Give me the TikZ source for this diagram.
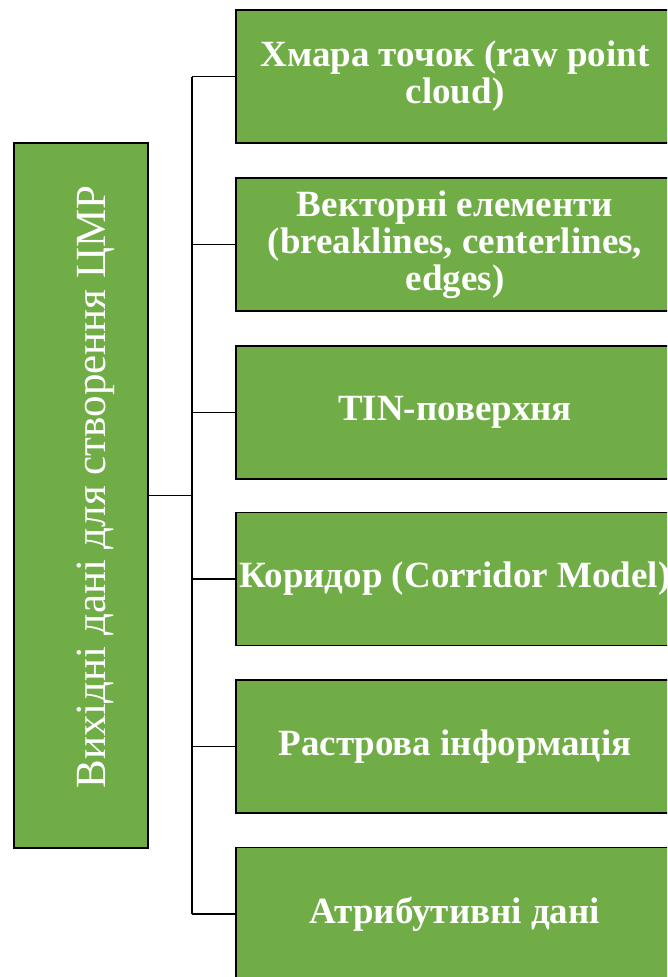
\documentclass[tikz,border=0pt]{standalone}
\usepackage{fontspec}
\setmainfont{Liberation Serif}
\definecolor{dmrgreen}{RGB}{112,173,71}

\begin{document}
\begin{tikzpicture}[x=1pt, y=-1pt,
  srcbox/.style={draw=black, line width=1.8pt, fill=dmrgreen, minimum width=134pt, minimum height=705pt, inner sep=0pt},
  srctext/.style={text=white, rotate=90, inner sep=0pt, font=\fontsize{43}{43}\selectfont},
  itembox/.style={draw=black, line width=1.8pt, fill=dmrgreen, minimum width=438pt, minimum height=133pt, inner sep=0pt,
    text=white, align=center, font=\fontsize{37}{37}\selectfont\bfseries},
  link/.style={line width=1.8pt}]
  \path[use as bounding box, clip] (0,0) rectangle (667,977);

  % Source block (left)
  \node[srcbox] (src) at (81,495.5) {};
  \node[srctext] (srclabel) at (96,487) {Вихідні дані для створення ЦМР};

  % Data blocks (right)
  \node[itembox] (b1) at (455,76.5) {Хмара точок (raw point\\cloud)};
  \node[itembox] (b2) at (455,244.5) {Векторні елементи\\(breaklines, centerlines,\\edges)};
  \node[itembox] (b3) at (455,412.5) {TIN-поверхня};
  \node[itembox] (b4) at (455,579) {Коридор (Corridor Model)};
  \node[itembox] (b5) at (455,746.5) {Растрова інформація};
  \node[itembox] (b6) at (455,914) {Атрибутивні дані};

  % Connectors
  \coordinate (jn) at (192,495.5);
  \draw[link] (src.east) -- (jn);
  \draw[link] (b1.west -| jn) -- (b6.west -| jn);
  \foreach \i in {1,...,6} {
    \draw[link] (b\i.west -| jn) -- (b\i.west);
  }
\end{tikzpicture}
\end{document}
